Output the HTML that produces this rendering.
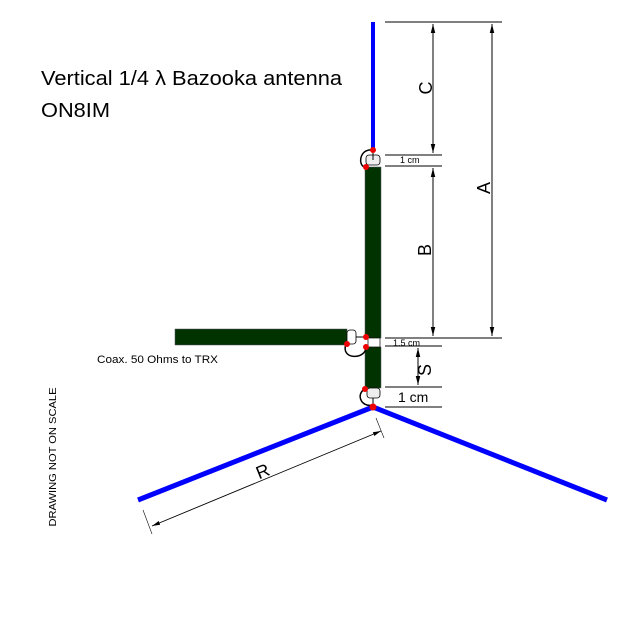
<!DOCTYPE html>
<html><head><style>body{margin:0;background:#fff}svg{display:block}text{font-family:"Liberation Sans",sans-serif;fill:#000}</style></head><body>
<svg width="618" height="622" viewBox="0 0 618 622" xmlns="http://www.w3.org/2000/svg">
<defs><marker id="ar" viewBox="0 0 10 10" refX="10" refY="5" markerWidth="9" markerHeight="9" orient="auto-start-reverse"><path d="M0,2.5 L10,5 L0,7.5 z" fill="#000"/></marker></defs>
<text x="41" y="85" font-size="20" textLength="301" lengthAdjust="spacingAndGlyphs">Vertical 1/4 λ Bazooka antenna</text>
<text x="41" y="117" font-size="20" textLength="69" lengthAdjust="spacingAndGlyphs">ON8IM</text>
<line x1="373" y1="22" x2="373" y2="152" stroke="#0000ff" stroke-width="4"/>
<line x1="373" y1="407" x2="138" y2="500" stroke="#0000ff" stroke-width="5"/>
<line x1="373" y1="407" x2="607" y2="500" stroke="#0000ff" stroke-width="5"/>
<rect x="365" y="167" width="16" height="171" fill="#003300" stroke="#556" stroke-width="0.5"/>
<rect x="365" y="347" width="16" height="41" fill="#003300" stroke="#556" stroke-width="0.5"/>
<rect x="368" y="338" width="12" height="9" fill="#fff" stroke="#000" stroke-width="0.7"/>
<rect x="175" y="329" width="172" height="16" fill="#003300" stroke="#556" stroke-width="0.5"/>
<rect x="347" y="330" width="9" height="14" rx="3" fill="#fff" stroke="#000" stroke-width="0.8"/>
<line x1="356" y1="337" x2="365" y2="337" stroke="#000"/>
<rect x="366" y="155" width="14" height="10" rx="3" fill="#eee" stroke="#000" stroke-width="0.8"/>
<rect x="367" y="388" width="13" height="10" rx="3" fill="#eee" stroke="#000" stroke-width="0.8"/>
<line x1="373" y1="152" x2="373" y2="160" stroke="#000"/>
<line x1="373" y1="398" x2="373" y2="407" stroke="#000"/>
<path d="M373,150 C358,148 358,168 366,167" fill="none" stroke="#000" stroke-width="1.5"/>
<path d="M346,344 C340,360 366,360 366,347" fill="none" stroke="#000" stroke-width="1.5"/>
<path d="M367,388 C355,392 360,408 373,405" fill="none" stroke="#000" stroke-width="1.5"/>
<g fill="#e00"><circle cx="373" cy="150" r="3"/><circle cx="366" cy="167" r="3"/><circle cx="366" cy="337" r="3"/><circle cx="366" cy="347" r="3"/><circle cx="347" cy="344" r="3"/><circle cx="365" cy="389" r="3"/><circle cx="373" cy="407" r="3.5"/></g>
<g stroke="#000" stroke-width="1" fill="none">
<line x1="385" y1="22" x2="502" y2="22"/><line x1="385" y1="155" x2="442" y2="155"/><line x1="385" y1="166" x2="442" y2="166"/>
<line x1="385" y1="338" x2="502" y2="338"/><line x1="385" y1="346" x2="442" y2="346"/><line x1="385" y1="387" x2="442" y2="387"/><line x1="385" y1="407" x2="442" y2="407"/>
<line x1="433" y1="24" x2="433" y2="153" marker-start="url(#ar)" marker-end="url(#ar)"/>
<line x1="492" y1="24" x2="492" y2="336" marker-start="url(#ar)" marker-end="url(#ar)"/>
<line x1="433" y1="168" x2="433" y2="336" marker-start="url(#ar)" marker-end="url(#ar)"/>
<line x1="418" y1="348" x2="418" y2="385" marker-start="url(#ar)" marker-end="url(#ar)"/>
<line x1="152" y1="526" x2="381" y2="431" marker-start="url(#ar)" marker-end="url(#ar)" stroke-width="0.9"/>
<line x1="143" y1="510" x2="152" y2="534" stroke-width="0.6"/><line x1="376" y1="418" x2="384" y2="438" stroke-width="0.6"/>
</g>
<text x="400" y="163" font-size="9">1 cm</text>
<text x="393" y="346" font-size="9">1.5 cm</text>
<text x="398" y="402" font-size="14">1 cm</text>
<text x="97" y="363" font-size="11" textLength="121" lengthAdjust="spacingAndGlyphs">Coax. 50 Ohms to TRX</text>
<text transform="translate(432,88) rotate(-90)" font-size="18" text-anchor="middle">C</text>
<text transform="translate(490,188) rotate(-90)" font-size="18" text-anchor="middle">A</text>
<text transform="translate(431,250) rotate(-90)" font-size="18" text-anchor="middle">B</text>
<text transform="translate(431,370) rotate(-90)" font-size="18" text-anchor="middle">S</text>
<text transform="translate(265,477) rotate(-22)" font-size="18" text-anchor="middle">R</text>
<text transform="translate(56,457) rotate(-90)" font-size="10" text-anchor="middle" textLength="139" lengthAdjust="spacingAndGlyphs">DRAWING NOT ON SCALE</text>
</svg>
</body></html>
